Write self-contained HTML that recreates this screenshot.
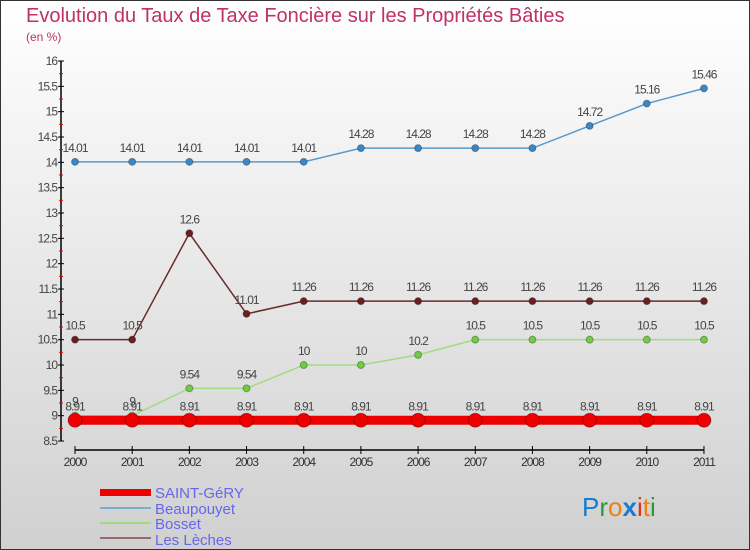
<!DOCTYPE html>
<html><head><meta charset="utf-8"><style>
body{margin:0;width:750px;height:550px;overflow:hidden;font-family:"Liberation Sans",sans-serif}
svg{display:block}
</style></head><body>
<svg id="c" width="750" height="550">
<defs><linearGradient id="bg" x1="0" y1="0" x2="0" y2="1"><stop offset="0" stop-color="#ffffff"/><stop offset="1" stop-color="#d0d0d0"/></linearGradient></defs>
<rect x="0.5" y="0.5" width="749" height="549" fill="url(#bg)" stroke="#333"/>
<text x="26" y="22" font-size="20" fill="#c0306a">Evolution du Taux de Taxe Foncière sur les Propriétés Bâties</text>
<text x="26" y="41" font-size="12" fill="#c0306a">(en %)</text>
<g id="axes"></g><g id="series"></g>
<g>
<rect x="100" y="489" width="51" height="7" fill="#e00"/>
<text x="155" y="498" font-size="15" fill="#6666ee">SAINT-GéRY</text>
<line x1="100" y1="508" x2="151" y2="508" stroke="#7aaed0" stroke-width="2"/>
<text x="155" y="514" font-size="15" fill="#6666ee">Beaupouyet</text>
<line x1="100" y1="523" x2="151" y2="523" stroke="#9fdc80" stroke-width="2"/>
<text x="155" y="529" font-size="15" fill="#6666ee">Bosset</text>
<line x1="100" y1="538" x2="151" y2="538" stroke="#9a6a6a" stroke-width="2"/>
<text x="155" y="545" font-size="15" fill="#6666ee">Les Lèches</text>
</g>
<g font-size="26" font-family="Liberation Sans,sans-serif">
<text x="582" y="516"><tspan fill="#1a7ad0">P</tspan><tspan fill="#2a9a3a">r</tspan><tspan fill="#f08010">o</tspan><tspan fill="#1a7ad0" font-weight="bold">x</tspan><tspan fill="#e03020">i</tspan><tspan fill="#f08010">t</tspan><tspan fill="#2a9a3a">i</tspan></text>
</g>
</svg>
<script>
const years=[2000,2001,2002,2003,2004,2005,2006,2007,2008,2009,2010,2011];
const saintGery=[8.91,8.91,8.91,8.91,8.91,8.91,8.91,8.91,8.91,8.91,8.91,8.91];
const beaupouyet=[14.01,14.01,14.01,14.01,14.01,14.28,14.28,14.28,14.28,14.72,15.16,15.46];
const bosset=[9,9,9.54,9.54,10,10,10.2,10.5,10.5,10.5,10.5,10.5];
const lesLeches=[10.5,10.5,12.6,11.01,11.26,11.26,11.26,11.26,11.26,11.26,11.26,11.26];
const yTicks=[8.5,9,9.5,10,10.5,11,11.5,12,12.5,13,13.5,14,14.5,15,15.5,16];
const NS="http://www.w3.org/2000/svg";
const X=i=>75+i*57.18, Y=v=>61+(16-v)*50.67;
function mk(t,a,p){const e=document.createElementNS(NS,t);for(const k in a)e.setAttribute(k,a[k]);p.appendChild(e);return e;}
const ax=document.getElementById('axes');
let l=mk('line',{x1:61,y1:Y(16),x2:61,y2:Y(8.5),stroke:'#000','stroke-width':1.5},ax);


yTicks.forEach(v=>{
 mk('line',{x1:58,y1:Y(v),x2:64,y2:Y(v),stroke:'#000'},ax);
 mk('line',{x1:59,y1:Y(v-0.25),x2:63,y2:Y(v-0.25),stroke:v>8.5?'#e00':'none'},ax);
 const t=mk('text',{x:57,y:Y(v)+4,'text-anchor':'end','font-size':12,fill:'#444','letter-spacing':'-1'},ax);t.textContent=String(v);
 
 
});
l=mk('line',{x1:X(0),y1:450,x2:X(11),y2:450,stroke:'#000','stroke-width':1.5},ax);


years.forEach((y,i)=>{
 mk('line',{x1:X(i),y1:446,x2:X(i),y2:454,stroke:'#000'},ax);
 const t=mk('text',{x:X(i),y:466,'text-anchor':'middle','font-size':12,fill:'#333','letter-spacing':'-1'},ax);t.textContent=y;
 
 
});
const sg=document.getElementById('series');
function series(name,vals,color,fill,w,r,labels){
 const g=mk('g',{},sg);
 
 
 mk('polyline',{points:vals.map((v,i)=>X(i)+','+Y(v)).join(' '),fill:'none',stroke:color,'stroke-width':w},g);
 vals.forEach((v,i)=>{
  const c=mk('circle',{cx:X(i),cy:Y(v),r:r,fill:fill,stroke:'rgba(0,0,0,0.3)','stroke-width':1},g);
  
  
  if(labels){const t=mk('text',{x:X(i),y:Y(v)-10,'text-anchor':'middle','font-size':12,fill:'#444','letter-spacing':'-1'},g);t.textContent=String(v);
  
  }
 });
}
series('les-leches',lesLeches,'#6a2a2a','#6a2020',1.5,3.5,true);
series('bosset',bosset,'#a0dc80','#70cc40',1.5,3.5,true);
series('beaupouyet',beaupouyet,'#5a9acb','#3a88c8',1.5,3.5,true);
series('saint-gery',saintGery,'#e00','#e00',9,7,true);
</script>
</body></html>
